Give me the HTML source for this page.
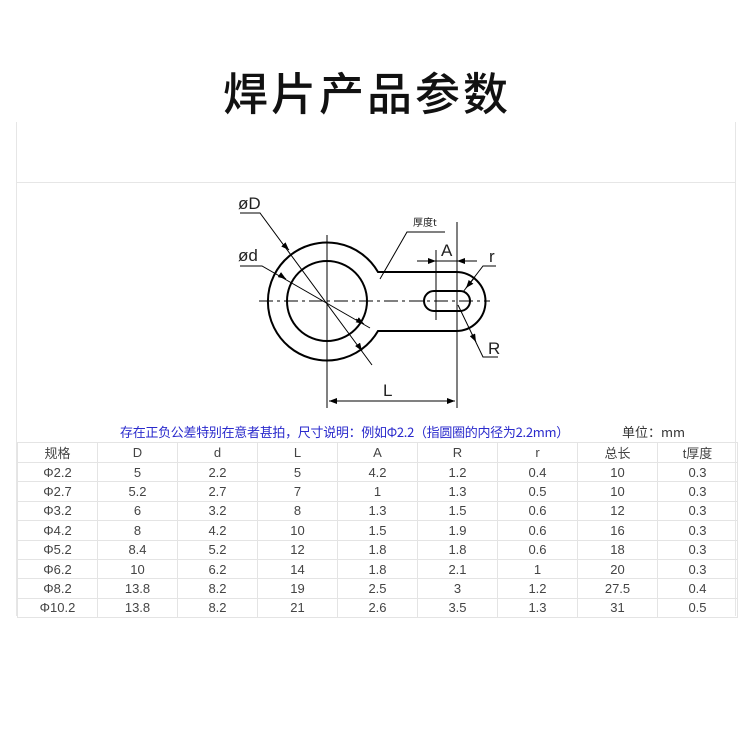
<!DOCTYPE html>
<html><head><meta charset="utf-8"><style>
body{margin:0;width:750px;height:750px;background:#fff;overflow:hidden;position:relative;font-family:"Liberation Sans","Noto Sans CJK SC",sans-serif}
.t{position:absolute;left:-8px;width:750px;top:58px;text-align:center;font-size:45px;color:#111;font-family:"Noto Sans CJK SC",sans-serif;font-weight:500;letter-spacing:3px}
table{position:absolute;left:17px;top:442px;border-collapse:collapse;font-size:13px;color:#444;font-family:"Liberation Sans","Noto Sans CJK SC",sans-serif}
td{width:79px;height:18.4px;border:1px solid #e4e4e4;text-align:center;padding:0}
.n{position:absolute;top:422px;left:120px;font-size:13px;letter-spacing:-0.3px;color:#2a2acc;font-family:"Noto Sans CJK SC",sans-serif;white-space:nowrap}
.u{position:absolute;top:422px;left:622px;font-size:13px;color:#333;font-family:"Noto Sans CJK SC",sans-serif}
</style></head><body>
<div class="t">焊片产品参数</div>
<div style="position:absolute;left:16px;top:122px;width:1px;height:494px;background:#e6e6e6"></div>
<div style="position:absolute;left:735px;top:122px;width:1px;height:494px;background:#e6e6e6"></div>
<div style="position:absolute;left:17px;top:182px;width:718px;height:1px;background:#e6e6e6"></div>
<svg style="position:absolute;left:0;top:0" width="750" height="750">
<defs><marker id="a" markerWidth="8" markerHeight="6" refX="8" refY="3" orient="auto" markerUnits="userSpaceOnUse"><path d="M0,0L8,3L0,6z" fill="#000"/></marker></defs>
<g fill="none" stroke="#000" stroke-width="2">
<path d="M378,272 L456,272 A29.5 29.5 0 0 1 456,331 L378,331 A59 59 0 1 1 378,272 Z"/>
<circle cx="327" cy="301" r="40"/>
<path d="M434,291 L460,291 A10 10 0 0 1 460,311 L434,311 A10 10 0 0 1 434,291 Z"/>
</g>
<g stroke="#000" stroke-width="1" fill="none">
<line x1="259" y1="301" x2="490" y2="301" stroke-dasharray="14,4,3,4"/>
<line x1="327" y1="235" x2="327" y2="408"/>
<line x1="457" y1="222" x2="457" y2="408"/>
<line x1="436" y1="250" x2="436" y2="320"/>
<line x1="329" y1="401" x2="455" y2="401" marker-end="url(#a)"/>
<line x1="455" y1="401" x2="329" y2="401" marker-end="url(#a)"/>
<line x1="417" y1="261" x2="436" y2="261" marker-end="url(#a)"/>
<line x1="477" y1="261" x2="457" y2="261" marker-end="url(#a)"/>
<line x1="436" y1="261" x2="457" y2="261"/>
<polyline points="240,213 260,213 372,365"/>
<line x1="288" y1="249" x2="289" y2="250" marker-end="url(#a)"/>
<line x1="360" y1="348" x2="362" y2="351" marker-end="url(#a)"/>
<polyline points="240,266 262,266 370,328"/>
<line x1="280" y1="275" x2="286" y2="279" marker-end="url(#a)"/>
<line x1="356" y1="319" x2="364" y2="324" marker-end="url(#a)"/>
<polyline points="445,232 407,232 380,279"/>
<polyline points="496,266 483,266 463,292"/>
<line x1="475" y1="277" x2="466" y2="288" marker-end="url(#a)"/>
<polyline points="458,305 483,357 498,357"/>
<line x1="472" y1="334" x2="476" y2="342" marker-end="url(#a)"/>
</g>
<g font-family="Liberation Sans,sans-serif" font-size="17" fill="#222">
<text x="238" y="209">øD</text>
<text x="238" y="261">ød</text>
<text x="441" y="256">A</text>
<text x="489" y="262">r</text>
<text x="488" y="354">R</text>
<text x="383" y="396">L</text>
<text x="413" y="226" font-size="10" font-family="Noto Sans CJK SC,sans-serif">厚度t</text>
</g>
</svg>
<div class="n">存在正负公差特别在意者甚拍，尺寸说明：例如Φ2.2（指圆圈的内径为2.2mm）</div>
<div class="u">单位：mm</div>
<table>
<tr><td>规格</td><td>D</td><td>d</td><td>L</td><td>A</td><td>R</td><td>r</td><td>总长</td><td>t厚度</td></tr>
<tr><td>Φ2.2</td><td>5</td><td>2.2</td><td>5</td><td>4.2</td><td>1.2</td><td>0.4</td><td>10</td><td>0.3</td></tr>
<tr><td>Φ2.7</td><td>5.2</td><td>2.7</td><td>7</td><td>1</td><td>1.3</td><td>0.5</td><td>10</td><td>0.3</td></tr>
<tr><td>Φ3.2</td><td>6</td><td>3.2</td><td>8</td><td>1.3</td><td>1.5</td><td>0.6</td><td>12</td><td>0.3</td></tr>
<tr><td>Φ4.2</td><td>8</td><td>4.2</td><td>10</td><td>1.5</td><td>1.9</td><td>0.6</td><td>16</td><td>0.3</td></tr>
<tr><td>Φ5.2</td><td>8.4</td><td>5.2</td><td>12</td><td>1.8</td><td>1.8</td><td>0.6</td><td>18</td><td>0.3</td></tr>
<tr><td>Φ6.2</td><td>10</td><td>6.2</td><td>14</td><td>1.8</td><td>2.1</td><td>1</td><td>20</td><td>0.3</td></tr>
<tr><td>Φ8.2</td><td>13.8</td><td>8.2</td><td>19</td><td>2.5</td><td>3</td><td>1.2</td><td>27.5</td><td>0.4</td></tr>
<tr><td>Φ10.2</td><td>13.8</td><td>8.2</td><td>21</td><td>2.6</td><td>3.5</td><td>1.3</td><td>31</td><td>0.5</td></tr>
</table>
</body></html>
